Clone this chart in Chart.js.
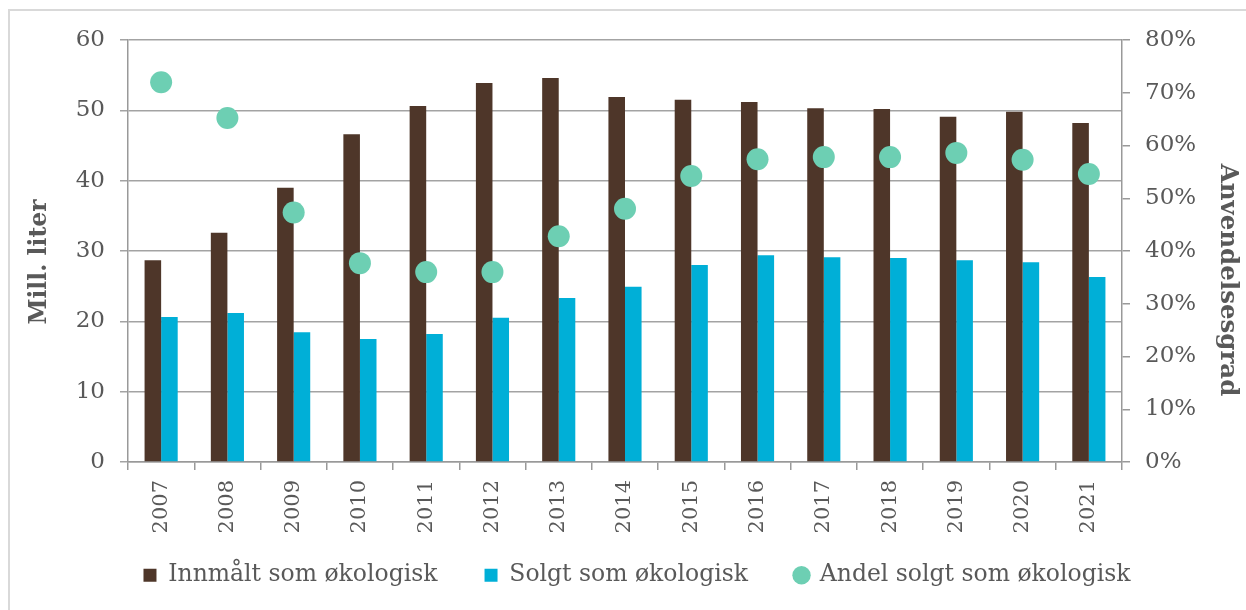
<!DOCTYPE html>
<html>
<head>
<meta charset="utf-8">
<script src="https://cdn.jsdelivr.net/npm/chart.js@4/dist/chart.umd.min.js"></script>
<style>
  html, body { margin: 0; padding: 0; background: #fff; }
  #wrap { position: relative; width: 1246px; height: 610px; }
</style>
</head>
<body>
<div id="wrap"><canvas id="c" width="1246" height="610"></canvas></div>
<script>
const years = ['2007','2008','2009','2010','2011','2012','2013','2014','2015','2016','2017','2018','2019','2020','2021'];
const innmaalt = [28.7, 32.6, 39.0, 46.6, 50.6, 53.9, 54.6, 51.9, 51.5, 51.2, 50.3, 50.2, 49.1, 49.8, 48.2];
const solgt = [20.6, 21.2, 18.45, 17.5, 18.2, 20.5, 23.3, 24.9, 28.0, 29.4, 29.1, 29.0, 28.7, 28.4, 26.3];
const andel = [72.0, 65.2, 47.3, 37.7, 36.0, 36.0, 42.8, 48.0, 54.2, 57.4, 57.8, 57.8, 58.6, 57.3, 54.6];
const leftTicks = [0, 10, 20, 30, 40, 50, 60];
const rightTicks = [0, 10, 20, 30, 40, 50, 60, 70, 80];
const leftTitle = 'Mill. liter';
const rightTitle = 'Anvendelsesgrad';

const FONT = "'DejaVu Serif', Georgia, serif";
const TXT = '#595959';
const GRID = '#a3a3a3';

const framePlugin = {
  id: 'frame',
  beforeDraw(chart) {
    const ctx = chart.ctx;
    ctx.save();
    ctx.strokeStyle = '#d9d9d9';
    ctx.lineWidth = 2;
    ctx.beginPath();
    ctx.moveTo(9, 610);
    ctx.lineTo(9, 10);
    ctx.lineTo(1246, 10);
    ctx.stroke();
    ctx.restore();
  }
};

// axis titles placed like the reference (not centred on the plot area)
const titlePlugin = {
  id: 'axisTitles',
  afterDraw(chart) {
    const ctx = chart.ctx;
    ctx.save();
    ctx.fillStyle = TXT;
    ctx.textAlign = 'center';
    ctx.textBaseline = 'middle';
    ctx.font = "bold 23.5px " + FONT;
    ctx.translate(40, 262);
    ctx.rotate(-Math.PI / 2);
    ctx.fillText(leftTitle, 0, 0);
    ctx.restore();
    ctx.save();
    ctx.fillStyle = TXT;
    ctx.textAlign = 'center';
    ctx.textBaseline = 'middle';
    ctx.font = "bold 24.5px " + FONT;
    ctx.translate(1227, 280);
    ctx.rotate(Math.PI / 2);
    ctx.fillText(rightTitle, 0, 0);
    ctx.restore();
  }
};

new Chart(document.getElementById('c'), {
  type: 'bar',
  data: {
    labels: years,
    datasets: [
      { label: 'Innmålt som økologisk', data: innmaalt, backgroundColor: '#4E3629', yAxisID: 'y', order: 1,
        categoryPercentage: 0.5, barPercentage: 1.0 },
      { label: 'Solgt som økologisk', data: solgt, backgroundColor: '#00AFD7', yAxisID: 'y', order: 1,
        categoryPercentage: 0.5, barPercentage: 1.0 },
      { type: 'line', label: 'Andel solgt som økologisk', data: andel, yAxisID: 'y2', order: -1,
        showLine: false, pointRadius: 11, pointHoverRadius: 11, pointBorderWidth: 0,
        backgroundColor: '#6DCFB3', borderColor: '#6DCFB3' }
    ]
  },
  options: {
    responsive: false,
    animation: false,
    events: [],
    layout: { padding: { top: 40, left: 28, right: 0, bottom: 13 } },
    plugins: {
      tooltip: { enabled: false },
      legend: {
        position: 'bottom',
        labels: {
          usePointStyle: true,
          boxWidth: 13,
          boxHeight: 13,
          padding: 47,
          color: TXT,
          font: { family: FONT, size: 23.5 },
          sort: (a, b) => a.datasetIndex - b.datasetIndex,
          generateLabels(chart) {
            return Chart.defaults.plugins.legend.labels.generateLabels(chart).map(l => {
              const ds = chart.data.datasets[l.datasetIndex];
              l.pointStyle = ds.type === 'line' ? 'circle' : 'rect';
              l.fillStyle = ds.backgroundColor;
              l.strokeStyle = ds.backgroundColor;
              l.lineWidth = 0;
              return l;
            });
          }
        }
      }
    },
    scales: {
      x: {
        offset: true,
        afterFit(s) { s.height = 54.5; },
        afterUpdate(s) { s._computeLabelArea = () => undefined; },
        grid: { offset: true, drawOnChartArea: false, drawTicks: true, tickLength: 8, color: '#999', lineWidth: 1.5 },
        border: { display: true, color: '#999', width: 1.5 },
        ticks: { color: TXT, font: { family: FONT, size: 21 }, minRotation: 90, maxRotation: 90, padding: 10, autoSkip: false }
      },
      y: {
        position: 'left',
        min: 0, max: 60,
        afterFit(s) { s.width = 100; },
        afterBuildTicks(s) { s.ticks = leftTicks.map(v => ({ value: v })); },
        grid: { color: GRID, lineWidth: 1.5, tickLength: 8 },
        border: { display: true, color: '#999', width: 1.5 },
        ticks: { color: TXT, font: { family: FONT, size: 23 }, padding: 15 },
        title: { display: false, text: leftTitle }
      },
      y2: {
        position: 'right',
        min: 0, max: 80,
        afterFit(s) { s.width = 124; },
        afterBuildTicks(s) { s.ticks = rightTicks.map(v => ({ value: v })); },
        grid: { drawOnChartArea: false, color: '#999', lineWidth: 1.5, tickLength: 8 },
        border: { display: true, color: '#999', width: 1.5 },
        ticks: { color: TXT, font: { family: FONT, size: 23 }, padding: 15, callback: v => v + '%' },
        title: { display: false, text: rightTitle }
      }
    }
  },
  plugins: [framePlugin, titlePlugin]
});
</script>
</body>
</html>
